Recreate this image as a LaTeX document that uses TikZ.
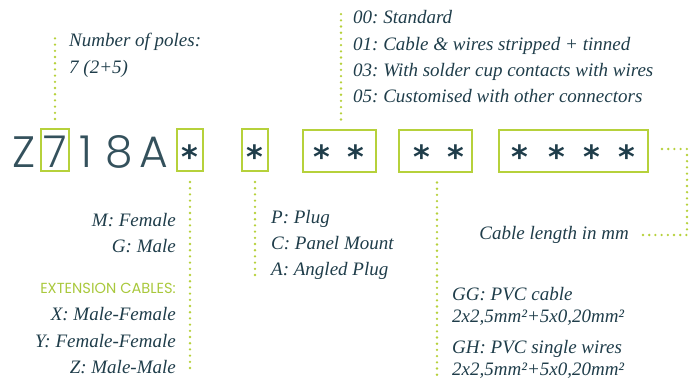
\documentclass[tikz,border=0pt]{standalone}
\usepackage{fontspec}
\setmainfont{Liberation Serif}
\newfontfamily\bigfont{Poppins Light}
\newfontfamily\extfont{Poppins}
\newfontfamily\starfont{DejaVu Sans Bold}
\definecolor{dteal}{HTML}{1F3D4A}
\definecolor{lteal}{HTML}{34515C}
\definecolor{lgreen}{HTML}{B6D13B}
\definecolor{egreen}{HTML}{A9C83C}
\frenchspacing
\tikzset{
  codebox/.style={draw=lgreen, line width=2pt, inner sep=0pt, minimum height=42pt},
  dotline/.style={draw=lgreen, line width=2.6pt, line cap=round, dash pattern=on 0pt off 6.2pt},
  lbl/.style={text=dteal, font=\fontsize{19}{23}\selectfont\itshape, inner sep=0pt},
  bigch/.style={text=lteal, font=\fontsize{44}{50}\selectfont\bigfont, inner sep=0pt, anchor=base},
  starch/.style={text=dteal, font=\fontsize{32}{34}\selectfont\starfont, inner sep=0pt, anchor=base},
  ext/.style={text=egreen, font=\fontsize{14.6}{18}\selectfont\extfont, inner sep=0pt}
}
\begin{document}
\begin{tikzpicture}[x=1pt,y=-1pt]
\useasboundingbox (0,0) rectangle (689,381);
% code boxes
\node[codebox, minimum width=28pt] (b7) at (55,150) {};
\node[codebox, minimum width=26pt] (b1) at (190,150) {};
\node[codebox, minimum width=26pt] (b2) at (255,150) {};
\node[codebox, minimum width=73pt] (b3) at (339.5,150.5) {};
\node[codebox, minimum width=73pt] (b4) at (435.5,150.5) {};
\node[codebox, minimum width=149pt] (b5) at (573.5,150.5) {};
% big characters
\node[bigch] (cz) at (24,167) {Z};
\node[bigch] (c7) at (55,167) {7};
\node[bigch] (c1) at (86,167) {1};
\node[bigch] (c8) at (119,167) {8};
\node[bigch] (ca) at (154,167) {A};
% asterisks
\node[starch] (s1) at (190,168.5) {*};
\node[starch] (s2) at (255,168.5) {*};
\node[starch] (s3a) at (322,168.5) {*};
\node[starch] (s3b) at (356,168.5) {*};
\node[starch] (s4a) at (422,168.5) {*};
\node[starch] (s4b) at (456,168.5) {*};
\node[starch] (s5a) at (520,168.5) {*};
\node[starch] (s5b) at (557,168.5) {*};
\node[starch] (s5c) at (592,168.5) {*};
\node[starch] (s5d) at (627,168.5) {*};
% leader ends
\coordinate (e7) at (55,33);
\coordinate (e3) at (341,8);
\coordinate (e1) at (190,373);
\coordinate (e2) at (255,278);
\coordinate (e4) at (437,375);
\coordinate (e5a) at (687,149);
\coordinate (e5b) at (687,235);
\coordinate (e5c) at (642,235);
\draw[dotline] ([yshift=9pt]b7.north) -- (e7);
\draw[dotline] ([xshift=1.5pt,yshift=9pt]b3.north) -- (e3);
\draw[dotline] ([yshift=-10pt]b1.south) -- (e1);
\draw[dotline] ([yshift=-10pt]b2.south) -- (e2);
\draw[dotline] ([xshift=1.5pt,yshift=-10pt]b4.south) -- (e4);
\draw[dotline] ([xshift=13pt]b5.east |- e5a) -- (e5a) -- (e5b) -- (e5c);
% labels
\node[lbl, anchor=base west] (np1) at (69,46) {Number of poles:};
\node[lbl, anchor=base west] (np2) at (69,73) {7 (2+5)};
\node[lbl, anchor=base west] (t1) at (353,23) {00: Standard};
\node[lbl, anchor=base west] (t2) at (353,50) {01: Cable \& wires stripped + tinned};
\node[lbl, anchor=base west] (t3) at (353,76) {03: With solder cup contacts with wires};
\node[lbl, anchor=base west] (t4) at (353,102) {05: Customised with other connectors};
\node[lbl, anchor=base east] (m1) at (176,226) {M: Female};
\node[lbl, anchor=base east] (m2) at (176,252) {G: Male};
\node[ext, anchor=base east] (m3) at (176,293) {EXTENSION CABLES:};
\node[lbl, anchor=base east] (m4) at (176,320) {X: Male-Female};
\node[lbl, anchor=base east] (m5) at (176,347) {Y: Female-Female};
\node[lbl, anchor=base east] (m6) at (176,373) {Z: Male-Male};
\node[lbl, anchor=base west] (p1) at (271,223) {P: Plug};
\node[lbl, anchor=base west] (p2) at (271,249) {C: Panel Mount};
\node[lbl, anchor=base west] (p3) at (271,275) {A: Angled Plug};
\node[lbl, anchor=base west] (g1) at (452,300) {GG: PVC cable};
\node[lbl, anchor=base west] (g2) at (452,322) {2x2,5mm²+5x0,20mm²};
\node[lbl, anchor=base west] (g3) at (452,353) {GH: PVC single wires};
\node[lbl, anchor=base west] (g4) at (452,375) {2x2,5mm²+5x0,20mm²};
\node[lbl, anchor=base east] (cl) at (629,239) {Cable length in mm};
\end{tikzpicture}
\end{document}
